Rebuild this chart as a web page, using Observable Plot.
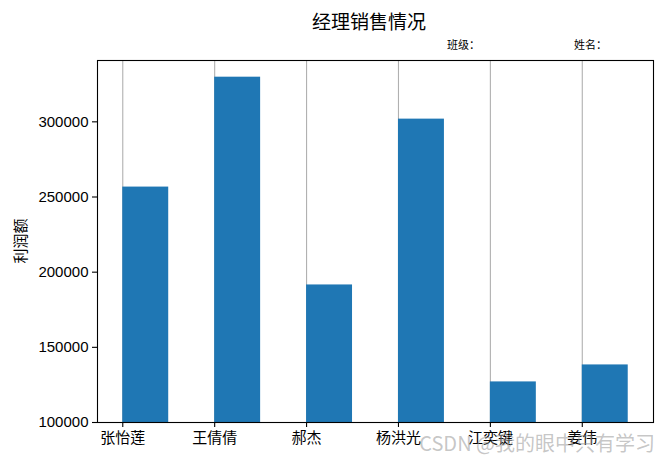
<!DOCTYPE html>
<html>
<head>
<meta charset="utf-8">
<script src="https://cdn.jsdelivr.net/npm/d3@7"></script>
<script src="https://cdn.jsdelivr.net/npm/@observablehq/plot@0.6"></script>
<style>
  html, body { margin: 0; padding: 0; background: white; }
  #chart { width: 665px; height: 462px; }
</style>
</head>
<body>
<div id="chart"></div>
<script>
const names = ["张怡莲", "王倩倩", "郝杰", "杨洪光", "江奕键", "姜伟"];
const profits = [256600, 329700, 191500, 301800, 127000, 138300];
const yTicks = [100000, 150000, 200000, 250000, 300000];
const titleText = "经理销售情况";
const classText = "班级：";
const nameText = "姓名：";
const yLabel = "利润额";
const watermark = "CSDN @我的眼中只有学习";

const idx = names.map((_, i) => i);
const rows = names.map((n, i) => ({ i, name: n, value: profits[i] }));
const barWidth = 0.5;

const font = "'Liberation Sans', 'Noto Sans CJK SC', sans-serif";

const plot = Plot.plot({
  width: 665,
  height: 462,
  marginLeft: 97,
  marginRight: 12,
  marginTop: 60,
  marginBottom: 40,
  style: { fontFamily: font, fontSize: "15px", background: "white", color: "black" },
  x: { type: "linear", domain: [-0.275, 5.775] },
  y: { type: "linear", domain: [100000, 340800] },
  marks: [
    Plot.ruleX(idx, { x: d => d, stroke: "#b0b0b0", strokeWidth: 1.1 }),
    Plot.rectY(rows, { x1: d => d.i, x2: d => d.i + barWidth, y1: 0, y2: "value", fill: "#1f77b4", clip: true, inset: 0 }),
    Plot.axisX(idx, { tickFormat: i => names[i], tickSize: 5, tickPadding: 5, fontSize: 15, label: null, stroke: "black", strokeWidth: 1.1 }),
    Plot.axisY(yTicks, { tickFormat: d => String(d), tickSize: 5, tickPadding: 4, fontSize: 15, label: null, stroke: "black", strokeWidth: 1.1 }),
    Plot.frame({ stroke: "black", strokeWidth: 1.1 })
  ]
});

document.getElementById("chart").appendChild(plot);

const svg = d3.select(plot);
svg.append("text")
  .attr("x", 369).attr("y", 29)
  .attr("text-anchor", "middle")
  .style("font-family", "'Noto Sans CJK SC', sans-serif")
  .style("font-size", "19px")
  .attr("fill", "black")
  .text(titleText);
svg.append("text")
  .attr("x", 447).attr("y", 49)
  .attr("text-anchor", "start")
  .style("font-family", "'Noto Sans CJK SC', sans-serif")
  .style("font-size", "11px")
  .attr("fill", "black")
  .text(classText);
svg.append("text")
  .attr("x", 574).attr("y", 49)
  .attr("text-anchor", "start")
  .style("font-family", "'Noto Sans CJK SC', sans-serif")
  .style("font-size", "11px")
  .attr("fill", "black")
  .text(nameText);
svg.append("text")
  .attr("transform", "translate(26,241) rotate(-90)")
  .attr("text-anchor", "middle")
  .style("font-family", "'Noto Sans CJK SC', sans-serif")
  .style("font-size", "15px")
  .attr("fill", "black")
  .text(yLabel);
svg.append("text")
  .attr("x", 655).attr("y", 451)
  .attr("text-anchor", "end")
  .style("font-family", "'Noto Sans CJK SC', sans-serif")
  .style("font-size", "20px")
  .attr("fill", "rgba(150,150,150,0.55)")
  .text(watermark);
</script>
</body>
</html>
